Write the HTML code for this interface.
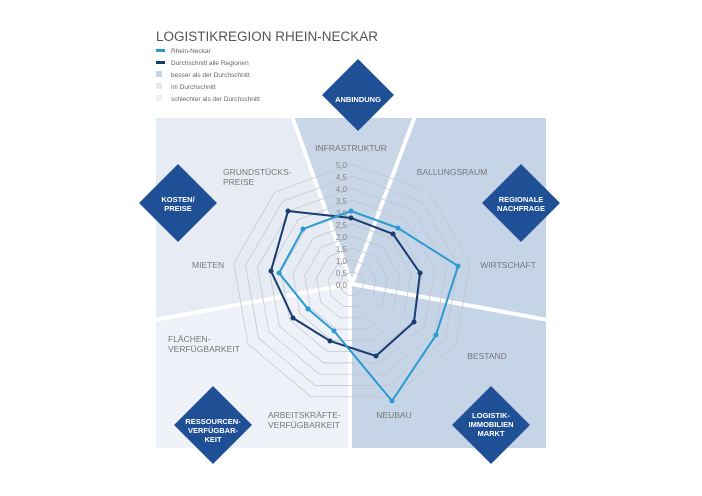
<!DOCTYPE html>
<html><head><meta charset="utf-8"><style>
body{margin:0;background:#fff;}
svg{display:block;font-family:"Liberation Sans",sans-serif;}
</style></head><body>
<svg width="702" height="496" viewBox="0 0 702 496" xmlns="http://www.w3.org/2000/svg">
<text x="156" y="41" font-size="13.5" fill="#555">LOGISTIKREGION RHEIN-NECKAR</text>
<rect x="156" y="49" width="9" height="3" fill="#2a9bd0"/>
<text x="171" y="53" font-size="6.5" fill="#666">Rhein-Neckar</text>
<rect x="156" y="61" width="9" height="3" fill="#173c70"/>
<text x="171" y="65" font-size="6.5" fill="#666">Durchschnitt alle Regionen</text>
<rect x="156" y="71" width="6" height="6" fill="#c5d3e6"/>
<text x="171" y="77" font-size="6.5" fill="#666">besser als der Durchschnitt</text>
<rect x="156" y="83" width="6" height="6" fill="#e2e8f2"/>
<text x="171" y="89" font-size="6.5" fill="#666">im Durchschnitt</text>
<rect x="156" y="95" width="6" height="6" fill="#eef1f7"/>
<text x="171" y="101" font-size="6.5" fill="#666">schlechter als der Durchschnitt</text>

<rect x="156" y="118" width="390" height="330" fill="#c6d4e7"/>
<polygon points="156,118 293,118 352,284 156,320" fill="#e7ecf4"/>
<polygon points="156,320 352,284 350,448 156,448" fill="#eef1f7"/>
<polygon points="293,118 414,118 352,284" fill="#c9d6e8"/>
<g stroke="#fff" stroke-width="4" fill="none">
<line x1="352" y1="284" x2="292" y2="116"/>
<line x1="352" y1="284" x2="415" y2="116"/>
<line x1="352" y1="284" x2="154" y2="320"/>
<line x1="352" y1="284" x2="548" y2="320"/>
<line x1="350" y1="284" x2="350" y2="450"/>
</g>

<g id="rings" fill="none" stroke="#c0c4ca" stroke-width="0.7"></g>

<g font-size="8" fill="#888" text-anchor="end">
<text x="347" y="168">5,0</text><text x="347" y="180">4,5</text><text x="347" y="192">4,0</text>
<text x="347" y="204">3,5</text><text x="347" y="216">3,0</text><text x="347" y="228">2,5</text>
<text x="347" y="240">2,0</text><text x="347" y="252">1,5</text><text x="347" y="264">1,0</text>
<text x="347" y="276">0,5</text><text x="347" y="288">0,0</text>
</g>

<polygon points="288,211 351,218 393,234 420,273 414,322 376,356 330,341 293,318 271,271" fill="none" stroke="#173c70" stroke-width="2"/>
<polygon points="351,211 398,228 458,266 436,335 392,401 334,331 308,309 279,273 303,229" fill="none" stroke="#2a9bd0" stroke-width="2"/>
<g fill="#173c70"><circle cx="288" cy="211" r="2.5"/><circle cx="351" cy="218" r="2.5"/><circle cx="393" cy="234" r="2.5"/><circle cx="420" cy="273" r="2.5"/><circle cx="414" cy="322" r="2.5"/><circle cx="376" cy="356" r="2.5"/><circle cx="330" cy="341" r="2.5"/><circle cx="293" cy="318" r="2.5"/><circle cx="271" cy="271" r="2.5"/></g>
<g fill="#2a9bd0"><circle cx="351" cy="211" r="2.5"/><circle cx="398" cy="228" r="2.5"/><circle cx="458" cy="266" r="2.5"/><circle cx="436" cy="335" r="2.5"/><circle cx="392" cy="401" r="2.5"/><circle cx="334" cy="331" r="2.5"/><circle cx="308" cy="309" r="2.5"/><circle cx="279" cy="273" r="2.5"/><circle cx="303" cy="229" r="2.5"/></g>

<g font-size="8.5" fill="#777">
<text x="351" y="151" text-anchor="middle">INFRASTRUKTUR</text>
<text x="452" y="175" text-anchor="middle">BALLUNGSRAUM</text>
<text x="508" y="268" text-anchor="middle">WIRTSCHAFT</text>
<text x="487" y="359" text-anchor="middle">BESTAND</text>
<text x="394" y="418" text-anchor="middle">NEUBAU</text>
<text x="268" y="418">ARBEITSKRÄFTE-</text>
<text x="268" y="428">VERFÜGBARKEIT</text>
<text x="168" y="342">FLÄCHEN-</text>
<text x="168" y="352">VERFÜGBARKEIT</text>
<text x="192" y="268">MIETEN</text>
<text x="223" y="175">GRUNDSTÜCKS-</text>
<text x="223" y="185">PREISE</text>
</g>

<g fill="#1f4f94">
<polygon points="358,59 394,95 358,131 322,95"/>
<polygon points="178,164 217,203 178,242 139,203"/>
<polygon points="521,164 560,203 521,242 482,203"/>
<polygon points="213,386 252,425 213,464 174,425"/>
<polygon points="491,386 530,425 491,464 452,425"/>
</g>
<g font-size="7.5" fill="#fff" font-weight="bold" text-anchor="middle">
<text x="358" y="102">ANBINDUNG</text>
<text x="178" y="202">KOSTEN/</text><text x="178" y="211">PREISE</text>
<text x="521" y="202">REGIONALE</text><text x="521" y="211">NACHFRAGE</text>
<text x="213" y="424">RESSOURCEN-</text><text x="213" y="433">VERFÜGBAR-</text><text x="213" y="442">KEIT</text>
<text x="491" y="418">LOGISTIK-</text><text x="491" y="427">IMMOBILIEN</text><text x="491" y="436">MARKT</text>
</g>
</svg>
<script>
(function(){var g=document.getElementById('rings'),cx=352,cy=284,s='';
for(var k=1;k<=10;k++){var r=12*k,p=[];for(var i=0;i<9;i++){var a=i*40*Math.PI/180;p.push((cx+r*Math.sin(a)).toFixed(1)+','+(cy-r*Math.cos(a)).toFixed(1));}
s+='<polygon points="'+p.join(' ')+'"/>';}
g.innerHTML=s;})();
</script>
</body></html>
